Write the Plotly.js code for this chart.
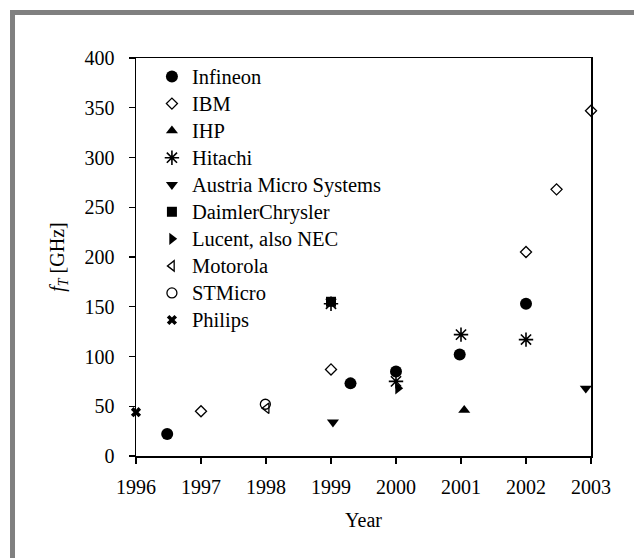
<!DOCTYPE html>
<html>
<head>
<meta charset="utf-8">
<script src="https://cdn.plot.ly/plotly-3.0.1.min.js"></script>
<style>
html,body{margin:0;padding:0;background:#fff;}
#chart{width:634px;height:558px;}
</style>
</head>
<body>
<div id="chart"></div>
<script>
// Data (year, fT in GHz)
const infineonYear = [1996.48, 1999.3, 2000.0, 2000.98, 2002.0];
const infineonFt   = [22, 73, 85, 102, 153];
const ibmYear = [1997.0, 1999.0, 2002.0, 2002.47, 2003.0];
const ibmFt   = [45, 87, 205, 268, 347];
const ihpYear = [2001.05, 2003.03];
const ihpFt   = [46, 186];
const hitachiYear = [1999.0, 2000.0, 2001.0, 2002.0];
const hitachiFt   = [153, 75, 122, 117];
const amsYear = [1999.03, 2002.92];
const amsFt   = [34, 68];
const daimlerYear = [1995.98, 1999.0];
const daimlerFt   = [28, 155];
const lucentYear = [2000.03];
const lucentFt   = [68];
const motorolaYear = [1998.01];
const motorolaFt   = [48];
const stYear = [1997.99];
const stFt   = [52];
const philipsYear = [1996.0];
const philipsFt   = [44];

const yearTicks = [1996, 1997, 1998, 1999, 2000, 2001, 2002, 2003];
const ftTicks = [0, 50, 100, 150, 200, 250, 300, 350, 400];

function tr(name, x, y, symbol, size, lw) {
  return {
    type: 'scatter', mode: 'markers',
    name: '<span style="font-size:20.5px">' + name + '</span>',
    x: x, y: y,
    cliponaxis: false,
    marker: {symbol: symbol, size: size, color: '#000',
             line: {color: '#000', width: lw || 0}}
  };
}

const data = [
  tr('Infineon', infineonYear, infineonFt, 'circle', 12),
  tr('IBM', ibmYear, ibmFt, 'diamond-open', 8.5, 1.3),
  tr('IHP', ihpYear, ihpFt, 'triangle-up', 10.5),
  tr('Hitachi', hitachiYear, hitachiFt, 'asterisk-open', 12, 1.6),
  tr('Austria Micro Systems', amsYear, amsFt, 'triangle-down', 10.5),
  tr('DaimlerChrysler', daimlerYear, daimlerFt, 'square', 10),
  tr('Lucent, also NEC', lucentYear, lucentFt, 'triangle-right', 10.5),
  tr('Motorola', motorolaYear, motorolaFt, 'triangle-left-open', 9, 1.3),
  tr('STMicro', stYear, stFt, 'circle-open', 10, 1.3),
  tr('Philips', philipsYear, philipsFt, 'x', 9)
];

const fontFam = '"Liberation Serif", "Times New Roman", serif';

const layout = {
  width: 634, height: 558,
  margin: {l: 136, r: 43, t: 58, b: 102},
  paper_bgcolor: '#fff', plot_bgcolor: '#fff',
  font: {family: fontFam, size: 20, color: '#000'},
  showlegend: true,
  legend: {x: 0.035, y: 1.0, xanchor: 'left', yanchor: 'top',
           bgcolor: 'rgba(0,0,0,0)', borderwidth: 0, tracegroupgap: 0,
           font: {family: fontFam, size: 18.5, color: '#000'}},
  xaxis: {
    range: [1996, 2003], tickvals: yearTicks, ticktext: yearTicks.map(String),
    showgrid: false, zeroline: false,
    showline: true, linecolor: '#000', linewidth: 1.5, mirror: true,
    ticks: 'outside', ticklen: 6, tickwidth: 1.2, tickcolor: '#000',
    ticklabelstandoff: 6,
    title: {text: 'Year', font: {family: fontFam, size: 20}, standoff: 16}
  },
  yaxis: {
    range: [0, 400], tickvals: ftTicks, ticktext: ftTicks.map(String),
    showgrid: false, zeroline: false,
    showline: true, linecolor: '#000', linewidth: 1.5, mirror: true,
    ticks: 'outside', ticklen: 6, tickwidth: 1.2, tickcolor: '#000',
    ticklabelstandoff: 10,
    title: {text: '<i>f</i><sub><i>T</i></sub> [GHz]', font: {family: fontFam, size: 20}, standoff: 14}
  },
  shapes: [
    {type: 'line', xref: 'paper', yref: 'paper',
     x0: -0.2714, x1: -0.2714, y0: 1.1206, y1: -0.26,
     line: {color: '#808080', width: 5}},
    {type: 'line', xref: 'paper', yref: 'paper',
     x0: -0.2769, x1: 1.1, y0: 1.1143, y1: 1.1143,
     line: {color: '#808080', width: 5}}
  ]
};

Plotly.newPlot('chart', data, layout, {displayModeBar: false, staticPlot: true});
</script>
</body>
</html>
